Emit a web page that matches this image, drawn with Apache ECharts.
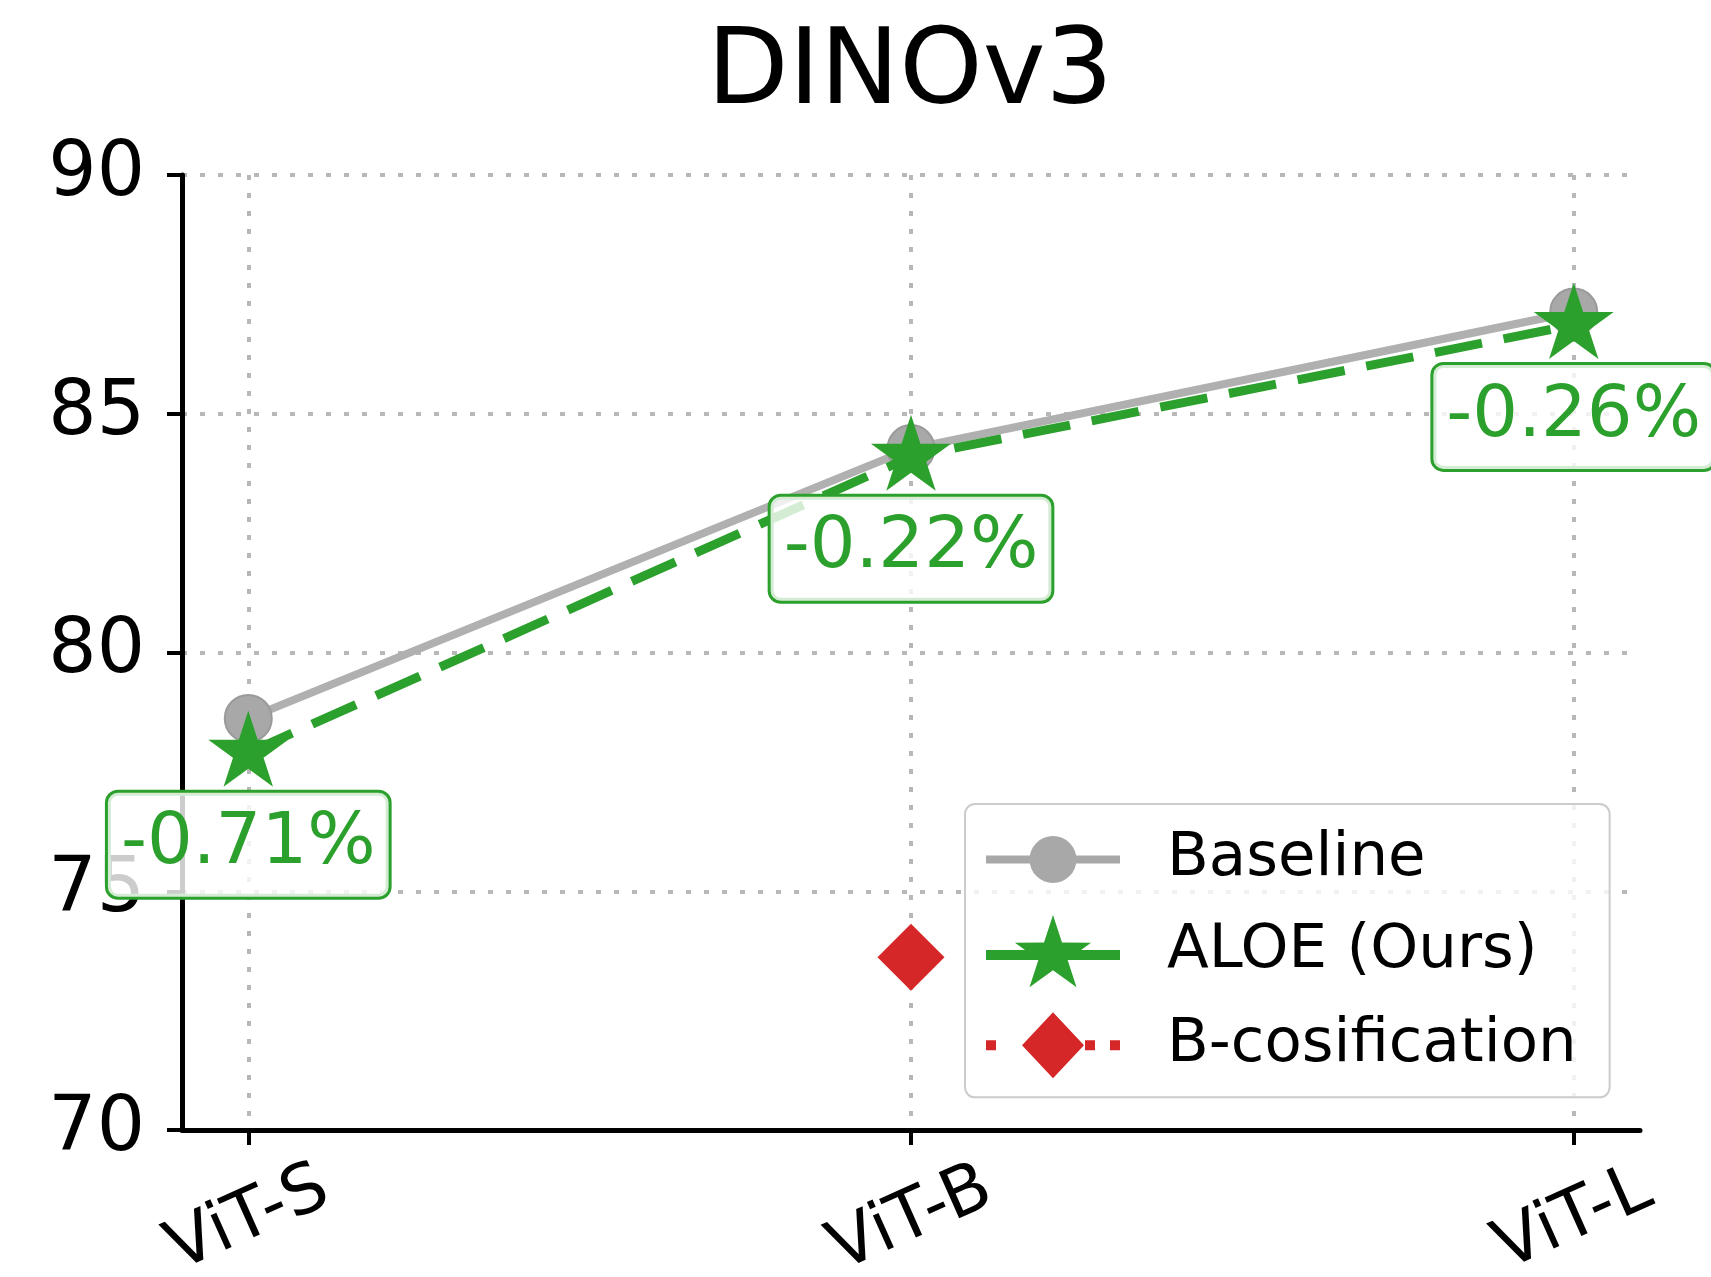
<!DOCTYPE html>
<html><head><meta charset="utf-8">
<script src="https://cdn.jsdelivr.net/npm/echarts@6/dist/echarts.min.js"></script>
<style>html,body{margin:0;padding:0;background:#fff}#c{width:1711px;height:1277px}</style>
</head><body><div id="c"></div>
<script>
const categories = ['ViT-S', 'ViT-B', 'ViT-L'];
const baseline = [78.62, 84.27, 87.13];
const aloe = [77.90, 84.10, 86.86];
const bcos = [null, 73.62, null];
const deltas = ['-0.71%', '-0.22%', '-0.26%'];
const yTicks = [70, 75, 80, 85, 90];
const seriesNames = ['Baseline', 'ALOE (Ours)', 'B-cosification'];
const titleText = 'DINOv3';

const FONT = 'DejaVu Sans';
const GREEN = '#2ca02c', RED = '#d62728', GRAY = '#b0b0b0';

function starPts(cx, cy, R, r) {
  let s = '';
  for (let k = 0; k < 10; k++) {
    const ang = (-90 + 36 * k) * Math.PI / 180;
    const rad = k % 2 === 0 ? R : r;
    const x = (cx + rad * Math.cos(ang)).toFixed(2), y = (cy + rad * Math.sin(ang)).toFixed(2);
    s += (k === 0 ? 'M' : 'L') + x + ',' + y + ' ';
  }
  return s + 'Z';
}
const starSymbol = 'path://' + starPts(100, 100, 100, 38.2);
const iconBaseline = 'path://M0,-4 H134 V4 H0 Z M43.5,0 A23.5,23.5 0 1 1 90.5,0 A23.5,23.5 0 1 1 43.5,0 Z';
const iconAloe = 'path://M0,-5 H134 V5 H0 Z ' + starPts(67, 0, 40, 15.3);
const iconBcos = 'path://M0,-5 H10 V5 H0 Z M99,-5 H109 V5 H99 Z M124,-5 H134 V5 H124 Z M67,-33 L98,0 L67,33 L36,0 Z';

const toPts = arr => arr.map((v, i) => [i, v]).filter(p => p[1] != null);

const chart = echarts.init(document.getElementById('c'), null, {renderer: 'canvas'});
chart.setOption({
  backgroundColor: '#fff',
  animation: false,
  title: {
    text: titleText, left: 910, top: 22, textAlign: 'center', padding: 0,
    textStyle: {fontFamily: FONT, fontSize: 106, fontWeight: 'normal', color: '#000', lineHeight: 106}
  },
  grid: {left: 182, right: 71, top: 175, bottom: 147, containLabel: false, outerBoundsMode: 'none'},
  xAxis: {
    type: 'value', min: -0.1, max: 2.1,
    axisLine: {show: true, onZero: false, lineStyle: {color: '#000', width: 5}},
    axisTick: {show: true, length: 15, lineStyle: {color: '#000', width: 4}, customValues: [0, 1, 2]},
    axisLabel: {
      customValues: [0, 1, 2], rotate: 24, margin: 90, align: 'center', verticalAlign: 'middle',
      formatter: v => categories[Math.round(v)] || '',
      fontFamily: FONT, fontSize: 69, color: '#000'
    },
    splitLine: {show: true, lineStyle: {color: '#b8b8b8', width: 4, type: [5, 13]}}
  },
  yAxis: {
    type: 'value', min: yTicks[0], max: yTicks[yTicks.length - 1], interval: yTicks[1] - yTicks[0],
    axisLine: {show: true, onZero: false, lineStyle: {color: '#000', width: 5}},
    axisTick: {show: true, length: 15, lineStyle: {color: '#000', width: 4}},
    axisLabel: {margin: 37, fontFamily: FONT, fontSize: 76, color: '#000'},
    splitLine: {show: true, lineStyle: {color: '#b8b8b8', width: 4, type: [5, 13]}}
  },
  legend: {
    orient: 'vertical', left: 965, top: 804, selectedMode: false,
    padding: [25, 33, 19, 21], itemGap: 25, itemWidth: 134, itemHeight: 75,
    symbolKeepAspect: true,
    backgroundColor: 'rgba(255,255,255,0.8)', borderColor: '#cccccc', borderWidth: 2, borderRadius: 10,
    textStyle: {fontFamily: FONT, fontSize: 61, color: '#000', padding: [0, 0, 0, 42]},
    data: [
      {name: seriesNames[0], icon: iconBaseline, itemStyle: {color: '#a8a8a8', borderWidth: 0}},
      {name: seriesNames[1], icon: iconAloe, itemStyle: {color: GREEN, borderWidth: 0}},
      {name: seriesNames[2], icon: iconBcos, itemStyle: {color: RED, borderWidth: 0}}
    ],
    z: 10
  },
  series: [
    {
      name: seriesNames[0], type: 'line', z: 2,
      data: toPts(baseline),
      symbol: 'circle', symbolSize: 47,
      lineStyle: {color: GRAY, width: 8},
      itemStyle: {color: '#a8a8a8', borderColor: '#9a9a9a', borderWidth: 2}
    },
    {
      name: seriesNames[1], type: 'line', z: 3,
      data: toPts(aloe),
      symbol: starSymbol, symbolSize: [80, 76], symbolOffset: [0, '-5.3%'], symbolKeepAspect: false,
      lineStyle: {color: GREEN, width: 9, type: [48, 22]},
      itemStyle: {color: GREEN},
      label: {
        show: true, position: 'bottom', distance: 6,
        formatter: p => deltas[p.dataIndex],
        fontFamily: FONT, fontSize: 72, lineHeight: 72, color: GREEN,
        backgroundColor: 'rgba(255,255,255,0.8)', borderColor: GREEN, borderWidth: 3, borderRadius: 10,
        padding: [16, 13]
      }
    },
    {
      name: seriesNames[2], type: 'line', z: 4,
      data: toPts(bcos),
      symbol: 'diamond', symbolSize: 67,
      lineStyle: {color: RED, width: 5, type: 'dotted'},
      itemStyle: {color: RED}
    }
  ]
});
</script></body></html>
